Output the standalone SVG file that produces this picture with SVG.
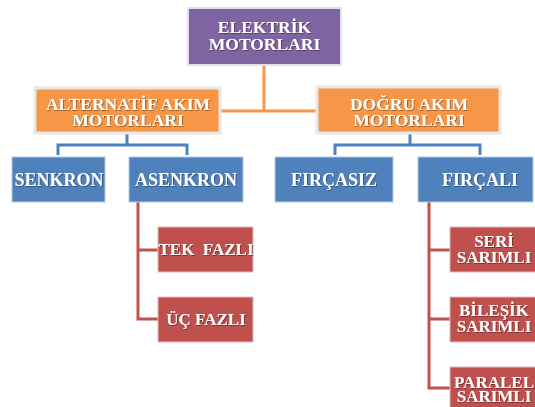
<svg xmlns="http://www.w3.org/2000/svg" width="535" height="407" viewBox="0 0 535 407">
  <defs>
    <filter id="txtShadow" x="-10%" y="-20%" width="120%" height="140%">
      <feDropShadow dx="0.8" dy="0.8" stdDeviation="0.6" flood-color="#000" flood-opacity="0.45"/>
    </filter>
    <style>
      .lbl { font-family: "Liberation Serif", "Times New Roman", serif; font-weight: bold; font-size: 17.5px; fill: #ffffff; text-anchor: middle; filter: url(#txtShadow); }
      .lbl.b { font-size: 18px; }
      .lbl.r { font-size: 17px; }
      .purple { fill: #8064A2; stroke: #E6E0EE; stroke-width: 2; }
      .orange { fill: #F79646; stroke: #E8E8E8; stroke-width: 3; }
      .blue { fill: #4F81BD; stroke: #B8CCE4; stroke-width: 1; }
      .red { fill: #C0504D; stroke: #E6B9B8; stroke-width: 1; }
      .c-orange { fill: none; stroke: #F79646; stroke-width: 3; }
      .c-blue { fill: none; stroke: #4F81BD; stroke-width: 3; }
      .c-red { fill: none; stroke: #C0504D; stroke-width: 3; }
    </style>
  </defs>
  <rect width="535" height="407" fill="#ffffff"/>

  <!-- connectors -->
  <g id="connectors">
    <path class="c-orange" d="M264 65 V111 M220 111 H318"/>
    <path class="c-blue" d="M127 133 V145 M58 155 V145 H187 V155"/>
    <path class="c-blue" d="M410 133 V145 M335 155 V145 H480 V155"/>
    <path class="c-red" d="M138 202 V319 H158 M138 250 H158"/>
    <path class="c-red" d="M429 202 V388 H450 M429 250 H450 M429 319 H450"/>
  </g>

  <g id="elektrik-motorlari">
    <rect class="purple" x="188" y="8" width="153" height="57"/>
    <text class="lbl" x="264.5" y="33" font-size="16.5">ELEKTRİK</text>
    <text class="lbl" x="264.5" y="50">MOTORLARI</text>
  </g>

  <g id="alternatif-akim">
    <rect class="orange" x="35" y="88" width="185" height="45"/>
    <text class="lbl" x="128" y="110">ALTERNATİF AKIM</text>
    <text class="lbl" x="128" y="126">MOTORLARI</text>
  </g>

  <g id="dogru-akim">
    <rect class="orange" x="317" y="87" width="183" height="46"/>
    <text class="lbl" x="409" y="110">DOĞRU AKIM</text>
    <text class="lbl" x="409" y="126">MOTORLARI</text>
  </g>

  <g id="senkron">
    <rect class="blue" x="12" y="157" width="93" height="45"/>
    <text class="lbl b" x="59" y="186">SENKRON</text>
  </g>

  <g id="asenkron">
    <rect class="blue" x="129" y="157" width="114" height="45"/>
    <text class="lbl b" x="186" y="186">ASENKRON</text>
  </g>

  <g id="fircasiz">
    <rect class="blue" x="275" y="157" width="118" height="45"/>
    <text class="lbl b" x="334" y="186">FIRÇASIZ</text>
  </g>

  <g id="fircali">
    <rect class="blue" x="418" y="157" width="115" height="45"/>
    <text class="lbl b" x="480" y="186">FIRÇALI</text>
  </g>

  <g id="tek-fazli">
    <rect class="red" x="158" y="227" width="95" height="45"/>
    <text class="lbl r" x="206" y="255" xml:space="preserve">TEK  FAZLI</text>
  </g>

  <g id="uc-fazli">
    <rect class="red" x="158" y="297" width="95" height="45"/>
    <text class="lbl r" x="206" y="325">ÜÇ FAZLI</text>
  </g>

  <g id="seri-sarimli">
    <rect class="red" x="450" y="227" width="87" height="45"/>
    <text class="lbl r" x="494" y="247">SERİ</text>
    <text class="lbl r" x="494" y="263">SARIMLI</text>
  </g>

  <g id="bilesik-sarimli">
    <rect class="red" x="450" y="297" width="87" height="45"/>
    <text class="lbl r" x="494" y="316">BİLEŞİK</text>
    <text class="lbl r" x="494" y="332">SARIMLI</text>
  </g>

  <g id="paralel-sarimli">
    <rect class="red" x="450" y="367" width="87" height="45"/>
    <text class="lbl r" x="494" y="388">PARALEL</text>
    <text class="lbl r" x="494" y="402">SARIMLI</text>
  </g>
</svg>
